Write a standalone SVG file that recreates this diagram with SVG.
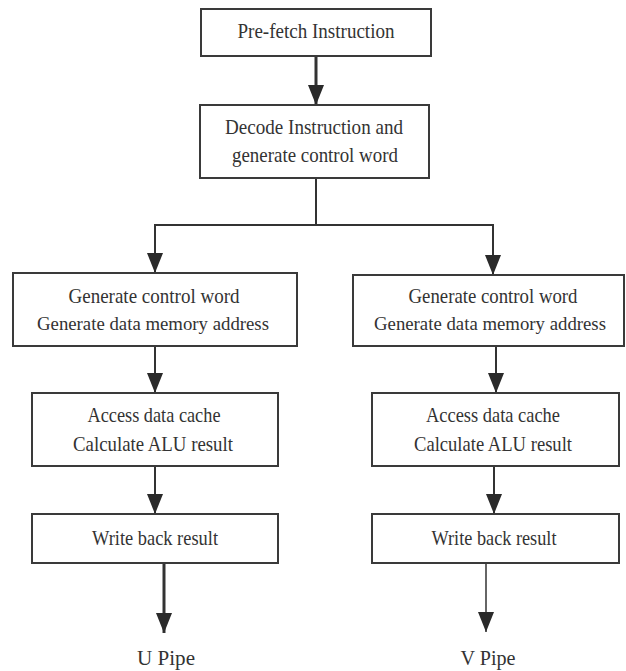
<svg xmlns="http://www.w3.org/2000/svg" width="626" height="671" viewBox="0 0 626 671">
<defs>
<style>
.box{fill:#fff;stroke:#3a3a3a;stroke-width:2}
.t{font-family:"Liberation Serif","Times New Roman",serif;font-size:21px;fill:#333;text-anchor:middle}
.s{font-size:19px}
.c{fill:none;stroke:#333;stroke-width:2}
.thick{stroke-width:3}
.thin{stroke-width:1.5}
</style>
<marker id="ah" viewBox="0 0 20 16" markerUnits="userSpaceOnUse" markerWidth="20" markerHeight="16" refX="20" refY="8" orient="auto">
<path d="M0,0 L20,8 L0,16 z" fill="#2a2a2a"/>
</marker>
</defs>
<rect width="626" height="671" fill="#fff"/>
<g id="connectors">
<line class="c thick" x1="316" y1="56" x2="316" y2="105" marker-end="url(#ah)"/>
<polyline class="c" points="316,178 316,225 155,225 155,273" marker-end="url(#ah)"/>
<polyline class="c" points="316,225 493,225 493,275" marker-end="url(#ah)"/>
<line class="c" x1="155" y1="346" x2="155" y2="393" marker-end="url(#ah)"/>
<line class="c" x1="155" y1="466" x2="155" y2="514" marker-end="url(#ah)"/>
<line class="c thick" x1="164" y1="563" x2="164" y2="633" marker-end="url(#ah)"/>
<line class="c" x1="496" y1="346" x2="496" y2="393" marker-end="url(#ah)"/>
<line class="c" x1="494" y1="466" x2="494" y2="514" marker-end="url(#ah)"/>
<line class="c thin" x1="486" y1="563" x2="486" y2="632" marker-end="url(#ah)"/>
</g>
<g id="prefetch">
<rect class="box" x="201" y="9" width="230" height="47"/>
<text class="t" x="316" y="38" textLength="157" lengthAdjust="spacingAndGlyphs">Pre-fetch Instruction</text>
</g>
<g id="decode">
<rect class="box" x="200" y="105" width="229" height="73"/>
<text class="t" x="314" y="134" textLength="178" lengthAdjust="spacingAndGlyphs">Decode Instruction and</text>
<text class="t" x="315" y="162" textLength="166" lengthAdjust="spacingAndGlyphs">generate control word</text>
</g>
<g id="gen-u">
<rect class="box" x="13" y="273" width="284" height="73"/>
<text class="t" x="154" y="303" textLength="171" lengthAdjust="spacingAndGlyphs">Generate control word</text>
<text class="t s" x="153" y="330" textLength="232" lengthAdjust="spacingAndGlyphs">Generate data memory address</text>
</g>
<g id="gen-v">
<rect class="box" x="353" y="275" width="271" height="71"/>
<text class="t" x="493" y="303" textLength="169" lengthAdjust="spacingAndGlyphs">Generate control word</text>
<text class="t s" x="490" y="330" textLength="232" lengthAdjust="spacingAndGlyphs">Generate data memory address</text>
</g>
<g id="alu-u">
<rect class="box" x="32" y="393" width="246" height="73"/>
<text class="t" x="154" y="422" textLength="133" lengthAdjust="spacingAndGlyphs">Access data cache</text>
<text class="t" x="153" y="451" textLength="160" lengthAdjust="spacingAndGlyphs">Calculate ALU result</text>
</g>
<g id="alu-v">
<rect class="box" x="372" y="393" width="247" height="73"/>
<text class="t" x="493" y="422" textLength="134" lengthAdjust="spacingAndGlyphs">Access data cache</text>
<text class="t" x="493" y="451" textLength="158" lengthAdjust="spacingAndGlyphs">Calculate ALU result</text>
</g>
<g id="wb-u">
<rect class="box" x="32" y="514" width="246" height="49"/>
<text class="t" x="155" y="545" textLength="126" lengthAdjust="spacingAndGlyphs">Write back result</text>
</g>
<g id="wb-v">
<rect class="box" x="372" y="514" width="247" height="49"/>
<text class="t" x="494" y="545" textLength="125" lengthAdjust="spacingAndGlyphs">Write back result</text>
</g>
<g id="upipe">
<text class="t" x="166" y="665" textLength="58" lengthAdjust="spacingAndGlyphs">U Pipe</text>
</g>
<g id="vpipe">
<text class="t" x="488" y="665" textLength="55" lengthAdjust="spacingAndGlyphs">V Pipe</text>
</g>
</svg>
